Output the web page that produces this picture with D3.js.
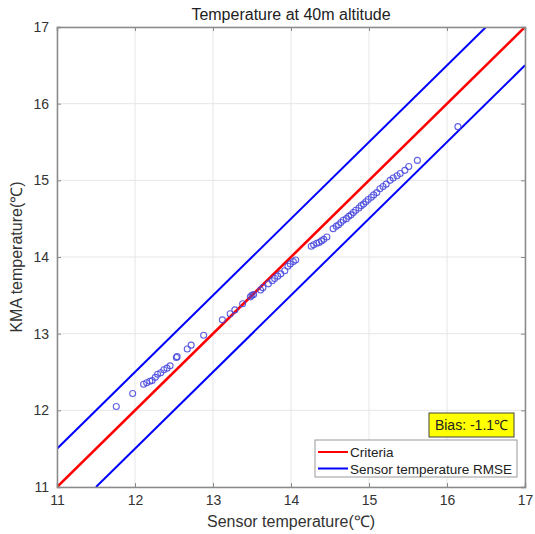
<!DOCTYPE html>
<html><head><meta charset="utf-8">
<script src="https://cdn.jsdelivr.net/npm/d3@7"></script>
<style>
body{margin:0;background:#fff;}
text{font-family:"Liberation Sans",Arial,sans-serif;}
</style></head>
<body><svg id="c" width="535" height="534"></svg>
<script>
const sensorTemp = [11.76,11.97,12.11,12.15,12.19,12.22,12.26,12.29,12.33,12.37,12.41,12.45,12.53,12.54,12.67,12.72,12.88,13.12,13.22,13.28,13.38,13.48,13.50,13.52,13.61,13.64,13.71,13.76,13.79,13.83,13.87,13.92,13.96,13.99,14.03,14.06,14.26,14.29,14.33,14.36,14.39,14.42,14.46,14.54,14.58,14.61,14.64,14.67,14.71,14.74,14.77,14.80,14.83,14.87,14.90,14.93,14.96,14.99,15.03,15.06,15.10,15.14,15.18,15.22,15.27,15.31,15.36,15.40,15.46,15.51,15.62,16.14];
const kmaTemp = [12.05,12.22,12.34,12.36,12.38,12.39,12.43,12.47,12.49,12.53,12.55,12.58,12.69,12.70,12.80,12.85,12.98,13.18,13.26,13.31,13.39,13.48,13.50,13.51,13.57,13.60,13.65,13.69,13.72,13.75,13.78,13.82,13.88,13.91,13.94,13.96,14.14,14.16,14.18,14.19,14.21,14.23,14.26,14.37,14.40,14.42,14.45,14.48,14.50,14.53,14.55,14.58,14.61,14.64,14.67,14.69,14.72,14.75,14.78,14.81,14.84,14.89,14.92,14.95,15.00,15.03,15.06,15.09,15.13,15.18,15.26,15.70];
const axisDomain = [11, 17];
const tickValues = [11,12,13,14,15,16,17];
const criteriaLine = [[11,11],[17,17]];
const rmseUpper = [[11,11.5],[16.5,17]];
const rmseLower = [[11.5,11],[17,16.5]];
const titleText = "Temperature at 40m altitude";
const xLabel = "Sensor temperature(℃)";
const yLabel = "KMA temperature(℃)";
const legendLabels = ["Criteria","Sensor temperature RMSE"];
const biasText = "Bias: -1.1℃";

const svg = d3.select("#c");
const L=57,R=525,T=27,B=487;
const x = d3.scaleLinear().domain(axisDomain).range([L,R]);
const y = d3.scaleLinear().domain(axisDomain).range([B,T]);

// grid
const g = svg.append("g");
g.selectAll(".gx").data(tickValues).join("line")
  .attr("x1",d=>x(d)).attr("x2",d=>x(d)).attr("y1",T).attr("y2",B)
  .attr("stroke","#e6e6e6").attr("stroke-width",1);
g.selectAll(".gy").data(tickValues).join("line")
  .attr("y1",d=>y(d)).attr("y2",d=>y(d)).attr("x1",L).attr("x2",R)
  .attr("stroke","#e6e6e6").attr("stroke-width",1);

svg.append("clipPath").attr("id","cp").append("rect")
  .attr("x",L).attr("y",T).attr("width",R-L).attr("height",B-T);

const line = d3.line().x(d=>x(d[0])).y(d=>y(d[1]));
const plot = svg.append("g").attr("clip-path","url(#cp)");
plot.append("path").datum(rmseUpper).attr("d",line).attr("stroke","#0000ff").attr("stroke-width",2).attr("fill","none");
plot.append("path").datum(rmseLower).attr("d",line).attr("stroke","#0000ff").attr("stroke-width",2).attr("fill","none");
plot.append("path").datum(criteriaLine).attr("d",line).attr("stroke","#ff0000").attr("stroke-width",2.6).attr("fill","none");

plot.selectAll("circle").data(sensorTemp).join("circle")
  .attr("cx",d=>x(d)).attr("cy",(d,i)=>y(kmaTemp[i])).attr("r",3)
  .attr("fill","none").attr("stroke","#4444dd").attr("stroke-width",1.1).attr("stroke-opacity",0.85);

// axes
const ax = d3.axisBottom(x).tickValues(tickValues).tickSize(-4).tickPadding(8).tickFormat(d3.format("d"));
const ay = d3.axisLeft(y).tickValues(tickValues).tickSize(-4).tickPadding(8).tickFormat(d3.format("d"));
const gx = svg.append("g").attr("transform",`translate(0,${B})`).call(ax);
const gy = svg.append("g").attr("transform",`translate(${L},0)`).call(ay);
const gx2 = svg.append("g").attr("transform",`translate(0,${T})`).call(d3.axisTop(x).tickValues(tickValues).tickSize(-4).tickFormat(""));
const gy2 = svg.append("g").attr("transform",`translate(${R},0)`).call(d3.axisRight(y).tickValues(tickValues).tickSize(-4).tickFormat(""));
[gx,gy,gx2,gy2].forEach(a=>{
  a.select(".domain").attr("stroke","#8a8a8a").attr("stroke-width",1.5);
  a.selectAll(".tick line").attr("stroke","#8a8a8a");
  a.selectAll("text").attr("fill","#333").attr("font-size",14).attr("font-family","Liberation Sans, Arial, sans-serif");
});

svg.append("text").attr("x",(L+R)/2).attr("y",20).attr("text-anchor","middle")
  .attr("font-size",16).attr("fill","#222").text(titleText);
svg.append("text").attr("x",(L+R)/2).attr("y",527).attr("text-anchor","middle")
  .attr("font-size",16).attr("fill","#333").text(xLabel);
svg.append("text").attr("transform",`translate(22,${(T+B)/2}) rotate(-90)`).attr("text-anchor","middle")
  .attr("font-size",16).attr("fill","#333").text(yLabel);

// bias box
svg.append("rect").attr("x",429).attr("y",413).attr("width",85).attr("height",24)
  .attr("fill","#ffff00").attr("stroke","#444").attr("stroke-width",1);
svg.append("text").attr("x",471.5).attr("y",430).attr("text-anchor","middle")
  .attr("font-size",14).attr("fill","#222").text(biasText);

// legend
svg.append("rect").attr("x",315).attr("y",440).attr("width",202).attr("height",37)
  .attr("fill","#fff").attr("stroke","#999").attr("stroke-width",1);
const legColors = ["#ff0000","#0000ff"];
legendLabels.forEach((lab,i)=>{
  const yy = 452 + i*16.5;
  svg.append("line").attr("x1",318).attr("x2",348).attr("y1",yy).attr("y2",yy)
    .attr("stroke",legColors[i]).attr("stroke-width",2);
  svg.append("text").attr("x",350).attr("y",yy+5).attr("font-size",13.5).attr("fill","#222").text(lab);
});
</script></body></html>
